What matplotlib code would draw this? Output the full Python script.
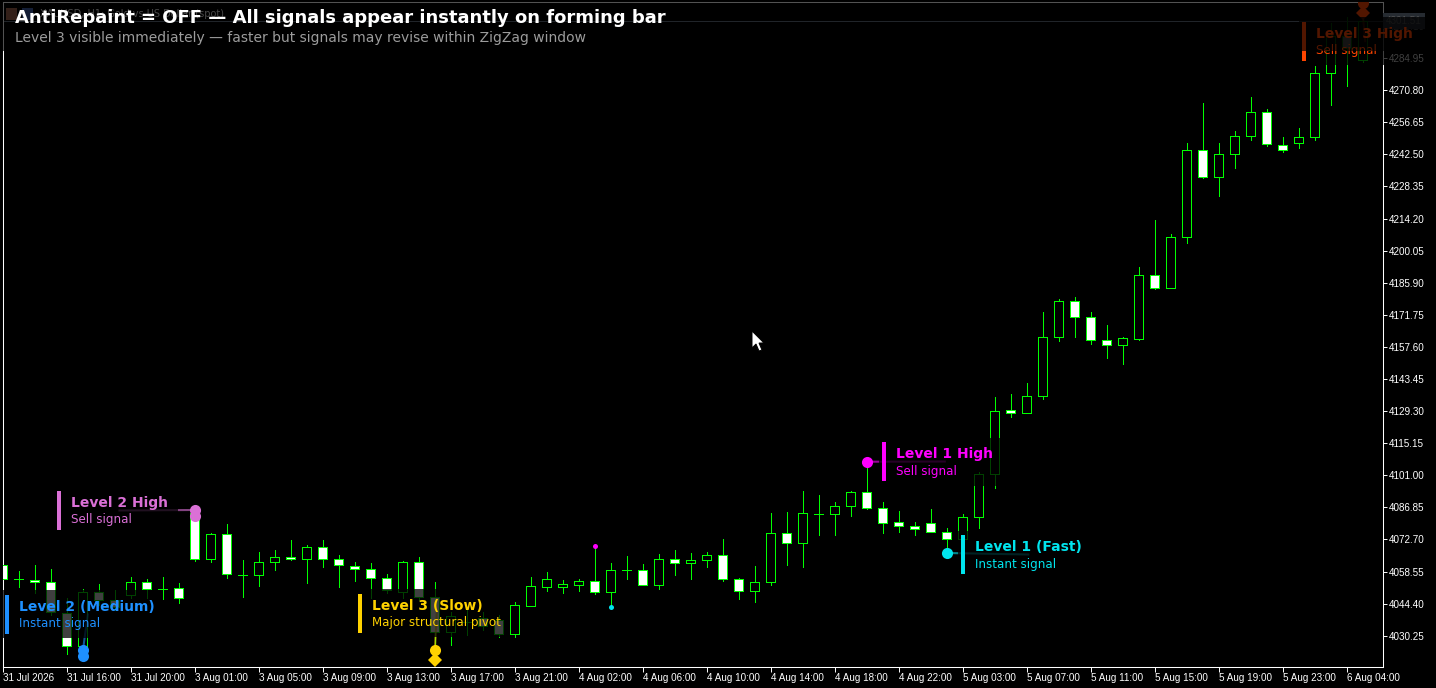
import matplotlib
matplotlib.use('Agg')
import matplotlib.pyplot as plt
from matplotlib.patches import Rectangle, Polygon
from matplotlib.lines import Line2D

W, H, DPI = 1436, 688, 100

# ---------------- data ----------------
tick_labels = ["31 Jul 2026", "31 Jul 16:00", "31 Jul 20:00", "3 Aug 01:00", "3 Aug 05:00",
               "3 Aug 09:00", "3 Aug 13:00", "3 Aug 17:00", "3 Aug 21:00", "4 Aug 02:00",
               "4 Aug 06:00", "4 Aug 10:00", "4 Aug 14:00", "4 Aug 18:00", "4 Aug 22:00",
               "5 Aug 03:00", "5 Aug 07:00", "5 Aug 11:00", "5 Aug 15:00", "5 Aug 19:00",
               "5 Aug 23:00", "6 Aug 04:00"]

price_ticks = [4030.25, 4044.40, 4058.55, 4072.70, 4086.85, 4101.00, 4115.15, 4129.30,
               4143.45, 4157.60, 4171.75, 4185.90, 4200.05, 4214.20, 4228.35, 4242.50,
               4256.65, 4270.80, 4284.95, 4299.10]

opens = [4061.42, 4055.12, 4054.94, 4053.80, 4040.39, 4025.70, 4049.39, 4045.99, 4048.19, 4053.79,
         4050.97, 4051.15, 4084.35, 4063.94, 4075.09, 4057.01, 4056.88, 4062.61, 4065.08, 4063.94,
         4069.23, 4063.94, 4061.11, 4059.53, 4055.56, 4049.39, 4062.74, 4047.44, 4032.01, 4036.29,
         4038.05, 4037.17, 4030.86, 4043.48, 4051.85, 4051.85, 4052.74, 4054.23, 4049.39, 4059.09,
         4059.09, 4052.47, 4063.94, 4062.17, 4063.50, 4065.70, 4055.12, 4049.82, 4053.80, 4075.40,
         4070.99, 4083.91, 4083.78, 4087.31, 4093.48, 4086.42, 4080.25, 4078.49, 4079.81, 4076.11,
         4072.75, 4082.46, 4101.42, 4129.64, 4128.32, 4135.81, 4161.83, 4177.71, 4170.65, 4160.51,
         4158.30, 4161.21, 4189.17, 4183.79, 4205.93, 4244.29, 4232.65, 4242.53, 4250.47, 4261.05,
         4246.76, 4247.38, 4250.02, 4278.51, 4294.70, 4284.11]
highs = [4062.30, 4058.78, 4061.42, 4059.53, 4046.87, 4050.71, 4052.91, 4050.40, 4056.13, 4055.38,
         4056.00, 4053.35, 4087.00, 4075.67, 4079.50, 4063.63, 4067.29, 4068.04, 4072.45, 4070.24,
         4072.45, 4065.83, 4062.88, 4062.17, 4057.32, 4063.19, 4064.82, 4053.93, 4040.70, 4041.58,
         4040.70, 4039.37, 4045.11, 4056.13, 4058.34, 4054.81, 4055.25, 4069.67, 4062.17, 4065.26,
         4061.73, 4066.27, 4068.04, 4066.71, 4067.15, 4072.89, 4055.56, 4060.98, 4084.35, 4084.79,
         4093.92, 4092.16, 4089.07, 4094.06, 4106.97, 4089.20, 4085.23, 4080.25, 4086.12, 4077.61,
         4083.91, 4102.56, 4135.37, 4136.83, 4141.68, 4172.99, 4178.72, 4179.60, 4172.99, 4167.25,
         4161.96, 4192.83, 4213.56, 4207.38, 4247.51, 4265.15, 4247.51, 4252.80, 4267.80, 4262.50,
         4250.16, 4254.13, 4281.47, 4300.30, 4303.21, 4303.07]
lows = [4054.37, 4051.85, 4049.21, 4039.37, 4022.18, 4024.38, 4043.78, 4041.58, 4046.87, 4046.74,
        4046.56, 4044.80, 4063.19, 4062.88, 4055.82, 4047.44, 4052.16, 4059.22, 4063.80, 4053.61,
        4060.67, 4051.85, 4054.50, 4046.74, 4048.95, 4046.87, 4045.99, 4024.82, 4026.14, 4030.55,
        4032.76, 4029.67, 4029.54, 4043.40, 4050.09, 4049.21, 4050.09, 4048.77, 4042.77, 4055.25,
        4052.40, 4050.97, 4057.14, 4055.38, 4060.67, 4054.50, 4046.30, 4045.24, 4052.47, 4061.29,
        4060.67, 4074.52, 4074.52, 4083.16, 4086.12, 4075.40, 4076.11, 4074.65, 4075.80, 4066.71,
        4071.56, 4077.61, 4095.51, 4126.82, 4128.30, 4134.76, 4160.33, 4162.10, 4159.01, 4152.84,
        4150.19, 4160.77, 4182.91, 4183.70, 4203.55, 4232.21, 4224.27, 4236.62, 4248.97, 4246.32,
        4243.67, 4245.44, 4248.97, 4264.40, 4272.78, 4283.23]
closes = [4055.12, 4055.20, 4053.93, 4040.83, 4025.70, 4049.39, 4045.99, 4043.03, 4053.79, 4050.97,
          4051.02, 4046.74, 4063.94, 4075.09, 4057.32, 4057.06, 4062.61, 4065.08, 4063.94, 4069.23,
          4063.94, 4061.42, 4059.66, 4055.56, 4050.40, 4062.74, 4047.44, 4032.01, 4038.93, 4036.35,
          4034.52, 4031.00, 4043.65, 4052.03, 4055.12, 4052.91, 4054.23, 4049.39, 4059.09, 4059.15,
          4052.47, 4063.94, 4062.17, 4063.50, 4065.70, 4055.12, 4049.82, 4053.80, 4075.40, 4070.99,
          4084.22, 4083.95, 4087.31, 4093.48, 4086.42, 4080.16, 4078.49, 4077.16, 4075.84, 4072.75,
          4082.46, 4101.42, 4129.20, 4128.32, 4135.81, 4161.83, 4177.71, 4170.65, 4160.51, 4158.30,
          4161.39, 4189.17, 4183.79, 4205.93, 4244.29, 4232.65, 4242.53, 4250.47, 4261.05, 4246.94,
          4244.29, 4250.02, 4278.25, 4294.70, 4289.27, 4301.51]
bid_price = 4301.51

# signals
sig_names = ["Level 2 High", "Level 2 (Medium)", "Level 3 (Slow)", "Level 1 High", "Level 1 (Fast)", "Level 3 High"]
sig_subs = ["Sell signal", "Instant signal", "Major structural pivot", "Sell signal", "Instant signal", "Sell signal"]
sig_colors = ["#DA70D6", "#1E90FF", "#FFD200", "#FF00FF", "#00E5EE", "#FF4500"]
sig_bar = [12, 5, 27, 54, 59, 85]
sig_price = [4085.68, 4023.94, 4023.94, 4106.97, 4066.71, 4304.84]
sig_marker = ["o", "o", "o", "o", "o", "D"]
sig2_price = [4083.03, 4021.29, 4019.53, None, None, 4309.25]
sig2_marker = ["o", "o", "D", None, None, "o"]
small_bar = [37, 38]
small_price = [4069.67, 4042.77]
small_color = ["#FF00FF", "#00E5EE"]

title = "AntiRepaint = OFF \u2014 All signals appear instantly on forming bar"
subtitle = "Level 3 visible immediately \u2014 faster but signals may revise within ZigZag window"
header = "XAUUSD, H1: Gold vs US Dollar (spot)"

# ---------------- layout / style ----------------
LIME = "#00FF00"
lab_dx = [-138, -77.7, -76.7, 15, 14, -61]      # label bar left, px from marker
lab_dy = [-19, -55, -56, -19.7, -18, 8.7]       # label bar top, px from marker
box_w = [124, 157, 150, 128, 142, 140]
txt_w = [97, 137, 129, 98, 107, 99]
BAR_H = 39

plt.rcParams['font.family'] = ['DejaVu Sans']
fig = plt.figure(figsize=(W / DPI, H / DPI), dpi=DPI, facecolor="black")
ax = fig.add_axes([3 / W, 21 / H, 1380 / W, 665 / H], facecolor="black")

n = len(opens)
xs = list(range(n))
ax.vlines(xs, lows, highs, colors=LIME, linewidth=0.6, antialiased=False, zorder=2)
bottoms = [min(o, c) for o, c in zip(opens, closes)]
heights = [max(abs(c - o), 0.05) for o, c in zip(opens, closes)]
fills = ["black" if c > o else "white" for o, c in zip(opens, closes)]
ax.bar(xs, heights, bottom=bottoms, width=0.5625, color=fills, edgecolor=LIME,
       linewidth=0.6, antialiased=False, zorder=3)

ax.axhline(bid_price, color="#778899", linewidth=0.6, zorder=1)

ax.set_xlim(0.019, 86.27)
ax.set_ylim(4016.44, 4309.69)

ax.set_xticks(list(range(0, 4 * len(tick_labels), 4)))
ax.set_xticklabels(tick_labels)
for lb in ax.get_xticklabels():
    lb.set_horizontalalignment("left")
    lb.set_fontfamily("Liberation Sans")
ax.tick_params(axis="x", colors="white", length=3.6, width=0.7, pad=1.0, labelsize=7.1)

ax.yaxis.tick_right()
ax.set_yticks(price_ticks)
ax.set_yticklabels([f"{p:.2f}" for p in price_ticks])
for lb in ax.get_yticklabels():
    lb.set_fontfamily("Liberation Sans")
ax.tick_params(axis="y", colors="white", length=3.0, width=0.7, pad=1.0, labelsize=7.1)
for s in ax.spines.values():
    s.set_color("white")
    s.set_linewidth(0.75)

# markers
for b, p, m, p2, m2, c in zip(sig_bar, sig_price, sig_marker, sig2_price, sig2_marker, sig_colors):
    if p2 is not None:
        ax.plot([b], [p2], marker=m2, markersize=8 if m2 == "o" else 7.5, color=c, zorder=5,
                markeredgewidth=0, linestyle="none")
    ax.plot([b], [p], marker=m, markersize=8 if m == "o" else 7.5, color=c, zorder=6,
            markeredgewidth=0, linestyle="none")
for b, p, c in zip(small_bar, small_price, small_color):
    ax.plot([b], [p], marker="o", markersize=3.6, color=c, markeredgewidth=0, zorder=6, linestyle="none")


def to_px(i, p):
    x, y = ax.transData.transform((i, p))
    return x, H - y


def fx(x):
    return x / W


def fy(y):
    return 1 - y / H


TF = fig.transFigure

# labels
for k in range(len(sig_names)):
    c = sig_colors[k]
    mx, my = to_px(sig_bar[k], sig_price[k])
    bl = mx + lab_dx[k]
    bt = my + lab_dy[k]
    tx = bl + 14 + txt_w[k] / 2
    ty = bt + BAR_H / 2
    fig.add_artist(Line2D([fx(mx), fx(tx)], [fy(my), fy(ty)], transform=TF, color=c,
                          alpha=0.6, linewidth=1.5, zorder=1.4))
    fig.add_artist(Rectangle((fx(bl - 3), fy(bt + BAR_H + 4.5)), box_w[k] / W, (BAR_H + 9) / H,
                             transform=TF, facecolor="black", alpha=0.75, linewidth=0, zorder=1.6))
    fig.add_artist(Rectangle((fx(bl), fy(bt + BAR_H)), 4 / W, BAR_H / H, transform=TF,
                             facecolor=c, linewidth=0, zorder=3))
    fig.text(fx(bl + 14), fy(bt + 12), sig_names[k], color=c, fontsize=10, fontweight="bold",
             va="center", ha="left", zorder=3)
    fig.text(fx(bl + 14), fy(bt + 29), sig_subs[k], color=c, fontsize=8.6,
             va="center", ha="left", zorder=3)

# current price tag
bx, by = to_px(86.27, bid_price)
fig.text(fx(bx + 3), fy(by), f"{bid_price:.2f}", color="white", fontsize=7.1, family="Liberation Sans",
         va="center", ha="left", zorder=1.5,
         bbox=dict(boxstyle="square,pad=0.3", facecolor="#778899", edgecolor="none"))

# MT5 header
fig.add_artist(Rectangle((fx(6), fy(20)), 11 / W, 12 / H, transform=TF, facecolor="#a0604c", zorder=3.5))
fig.add_artist(Rectangle((fx(22), fy(20)), 11 / W, 12 / H, transform=TF, facecolor="#3f5fa8", zorder=3.5))
fig.text(fx(40), fy(14), header, color="#e0e0e0", fontsize=7, va="center", ha="left", zorder=3.5)

# title overlay
fig.add_artist(Rectangle((0, fy(51)), 1, 51 / H, transform=TF, facecolor="black", alpha=0.68,
                         linewidth=0, zorder=4))
fig.text(fx(15), fy(18), title, color="white", fontsize=13, fontweight="bold",
         va="center", ha="left", zorder=5)
fig.text(fx(15), fy(38), subtitle, color="#9c9c9c", fontsize=10,
         va="center", ha="left", zorder=5)

# mouse cursor
cx, cy = 752, 331
pts = [(0, 0), (0, 17), (4, 13), (7, 20), (10, 19), (7, 12), (12, 12)]
fig.add_artist(Polygon([(fx(cx + a), fy(cy + b)) for a, b in pts], closed=True, transform=TF,
                       facecolor="white", edgecolor="black", linewidth=0.7, zorder=6))

fig.savefig("out.png", dpi=DPI, facecolor="black")
